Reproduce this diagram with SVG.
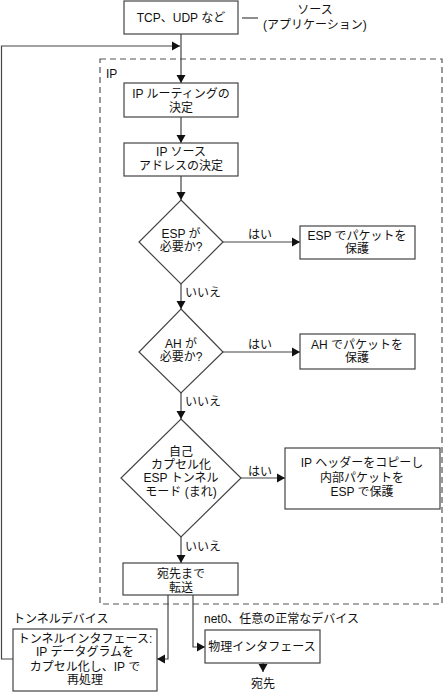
<svg xmlns="http://www.w3.org/2000/svg" width="443" height="692" viewBox="0 0 443 692">
<defs>
<style>
.t{font-family:"Liberation Sans","Noto Sans CJK JP",sans-serif;font-size:12px;fill:#111;text-anchor:middle}
.s{text-anchor:start}
.b{fill:#fff;stroke:#444;stroke-width:1.2}
.c{fill:none;stroke:#444;stroke-width:1.2}
</style>
<marker id="ah" markerUnits="userSpaceOnUse" markerWidth="9" markerHeight="10" refX="8" refY="5" orient="auto">
<path d="M0,0.5 L8,5 L0,9.5 Z" fill="#111"/>
</marker>
</defs>
<rect x="100" y="59" width="342" height="545" fill="none" stroke="#555" stroke-width="1.2" stroke-dasharray="6,4"/>
<text class="t s" x="106" y="78">IP</text>
<g id="connectors">
<path class="c" d="M181,34 V83" marker-end="url(#ah)"/>
<path class="c" d="M13,659 H1.5 V46 H180" marker-end="url(#ah)"/>
<path class="c" d="M181,117 V143" marker-end="url(#ah)"/>
<path class="c" d="M181,176 V200" marker-end="url(#ah)"/>
<path class="c" d="M223,242 H300" marker-end="url(#ah)"/>
<path class="c" d="M181,284 V309" marker-end="url(#ah)"/>
<path class="c" d="M223,352 H300" marker-end="url(#ah)"/>
<path class="c" d="M181,393 V419" marker-end="url(#ah)"/>
<path class="c" d="M241,478 H285" marker-end="url(#ah)"/>
<path class="c" d="M181,537 V563" marker-end="url(#ah)"/>
<path class="c" d="M168,595 V659 H157" marker-end="url(#ah)"/>
<path class="c" d="M193,595 V647 H205" marker-end="url(#ah)"/>
<path class="c" d="M263,663 V672" marker-end="url(#ah)"/>
<path class="c" d="M242,18 H258"/>
<text class="t" x="260" y="239">はい</text>
<text class="t" x="260" y="349">はい</text>
<text class="t" x="260" y="476">はい</text>
<text class="t s" x="185" y="297">いいえ</text>
<text class="t s" x="185" y="406">いいえ</text>
<text class="t s" x="185" y="551">いいえ</text>
</g>
<g id="src">
<rect class="b" x="124" y="1" width="114" height="33"/>
<text class="t" x="181" y="22">TCP、UDP など</text>
<text class="t" x="315" y="14">ソース</text>
<text class="t" x="315" y="29">(アプリケーション)</text>
</g>
<g id="route">
<rect class="b" x="124" y="83" width="114" height="34"/>
<text class="t" x="181" y="98">IP ルーティングの</text>
<text class="t" x="181" y="112">決定</text>
</g>
<g id="srcaddr">
<rect class="b" x="124" y="143" width="114" height="33"/>
<text class="t" x="181" y="156">IP ソース</text>
<text class="t" x="181" y="170">アドレスの決定</text>
</g>
<g id="espq">
<path class="b" d="M181,200 L223,242 L181,284 L139,242 Z"/>
<text class="t" x="181" y="238">ESP が</text>
<text class="t" x="181" y="251">必要か?</text>
</g>
<g id="espbox">
<rect class="b" x="300" y="226" width="115" height="33"/>
<text class="t" x="357" y="240">ESP でパケットを</text>
<text class="t" x="357" y="253">保護</text>
</g>
<g id="ahq">
<path class="b" d="M181,309 L223,352 L181,393 L139,352 Z"/>
<text class="t" x="181" y="348">AH が</text>
<text class="t" x="181" y="361">必要か?</text>
</g>
<g id="ahbox">
<rect class="b" x="300" y="334" width="115" height="35"/>
<text class="t" x="357" y="349">AH でパケットを</text>
<text class="t" x="357" y="362">保護</text>
</g>
<g id="selfq">
<path class="b" d="M181,419 L241,478 L181,537 L121,478 Z"/>
<text class="t" x="181" y="456">自己</text>
<text class="t" x="181" y="469">カプセル化</text>
<text class="t" x="181" y="482">ESP トンネル</text>
<text class="t" x="181" y="496">モード (まれ)</text>
</g>
<g id="selfbox">
<rect class="b" x="285" y="448" width="155" height="61"/>
<text class="t" x="362" y="467">IP ヘッダーをコピーし</text>
<text class="t" x="362" y="482">内部パケットを</text>
<text class="t" x="362" y="496">ESP で保護</text>
</g>
<g id="fwd">
<rect class="b" x="123" y="563" width="115" height="32"/>
<text class="t" x="181" y="578">宛先まで</text>
<text class="t" x="181" y="592">転送</text>
</g>
<g id="tunnel">
<text class="t s" x="13" y="623">トンネルデバイス</text>
<rect class="b" x="13" y="629" width="144" height="62"/>
<text class="t" x="85" y="643">トンネルインタフェース:</text>
<text class="t" x="85" y="656">IP データグラムを</text>
<text class="t" x="85" y="671">カプセル化し、IP で</text>
<text class="t" x="85" y="684">再処理</text>
</g>
<g id="phys">
<text class="t s" x="204" y="623">net0、任意の正常なデバイス</text>
<rect class="b" x="205" y="630" width="115" height="33"/>
<text class="t" x="262" y="651">物理インタフェース</text>
</g>
<g id="dest">
<text class="t" x="263" y="688">宛先</text>
</g>
</svg>
